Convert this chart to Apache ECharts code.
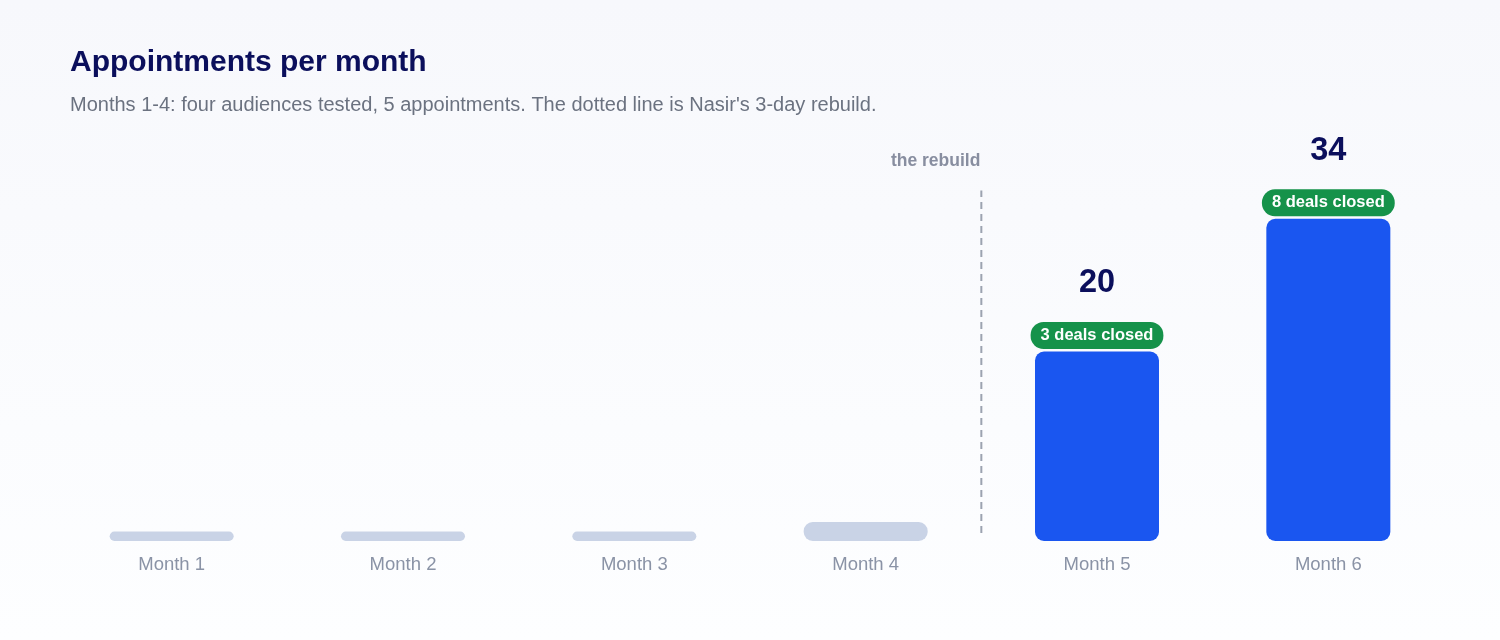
<!DOCTYPE html>
<html>
<head>
<meta charset="utf-8">
<script src="https://cdn.jsdelivr.net/npm/echarts@6/dist/echarts.min.js"></script>
<style>
html,body{margin:0;padding:0;width:1500px;height:640px;overflow:hidden;}
#c{width:1500px;height:640px;}
</style>
</head>
<body>
<div id="c"></div>
<script>
const categories = ['Month 1','Month 2','Month 3','Month 4','Month 5','Month 6'];
const appointments = [1, 1, 1, 2, 20, 34];
const dealsClosed = [null, null, null, null, 3, 8];
const rebuildPosition = 4; // boundary between Month 4 and Month 5
const rebuildLineSpan = [0.85, 37];
const titleText = 'Appointments per month';
const subtitleText = "Months 1-4: four audiences tested, 5 appointments. The dotted line is Nasir's 3-day rebuild.";
const rebuildLabel = 'the rebuild';

const FONT = 'Liberation Sans';
const chart = echarts.init(document.getElementById('c'));

const barData = appointments.map((v, i) => {
  const after = dealsClosed[i] != null;
  return {
    value: v,
    itemStyle: { color: after ? '#1a56f0' : '#c9d3e6', borderRadius: 9 },
    label: after ? {
      show: true,
      position: 'top',
      distance: 8,
      formatter: '{v|' + v + '}\n{p|' + dealsClosed[i] + ' deals closed}',
      rich: {
        v: { fontSize: 32.5, fontWeight: 'bold', color: '#0b0f5c', fontFamily: FONT, lineHeight: 88, align: 'center' },
        p: { fontSize: 16.5, fontWeight: 'bold', color: '#ffffff', fontFamily: FONT, backgroundColor: '#15924a',
             borderRadius: 13, padding: [5, 10, 5, 10], lineHeight: 16, align: 'center' }
      }
    } : { show: false }
  };
});

chart.setOption({
  backgroundColor: new echarts.graphic.LinearGradient(0, 0, 0, 1, [
    { offset: 0, color: '#f7f8fc' },
    { offset: 1, color: '#fdfeff' }
  ]),
  animation: false,
  textStyle: { fontFamily: FONT },
  title: {
    text: titleText,
    subtext: subtitleText,
    left: 65,
    top: 43,
    itemGap: 17,
    textStyle: { fontSize: 30, fontWeight: 'bold', color: '#0b0f5c', fontFamily: FONT },
    subtextStyle: { fontSize: 20, color: '#6b7280', fontFamily: FONT }
  },
  grid: { left: 56, right: 56, top: 162, bottom: 99 },
  xAxis: [{
    type: 'category',
    data: categories,
    axisLine: { show: false },
    axisTick: { show: false },
    axisLabel: { color: '#8a93a6', fontSize: 18.5, fontFamily: FONT, margin: 14 }
  }, {
    type: 'value',
    min: 0, max: categories.length,
    show: false
  }],
  yAxis: { type: 'value', min: 0, max: 40, show: false },
  series: [{
    type: 'bar',
    data: barData,
    barWidth: 124,
    silent: true
  }, {
    type: 'line',
    xAxisIndex: 1,
    data: rebuildLineSpan.map(y => [rebuildPosition, y]),
    symbol: 'none',
    lineStyle: { color: '#9ca3b0', width: 2, type: [7, 5] },
    silent: true
  }, {
    type: 'scatter',
    xAxisIndex: 1,
    symbolSize: 0,
    data: [[rebuildPosition, rebuildLineSpan[1]]],
    label: {
      show: true,
      position: 'top',
      formatter: rebuildLabel,
      align: 'right',
      offset: [-1, -15],
      fontSize: 17.5,
      fontWeight: 'bold',
      color: '#6b7388',
      fontFamily: FONT
    },
    silent: true
  }]
});
</script>
</body>
</html>
